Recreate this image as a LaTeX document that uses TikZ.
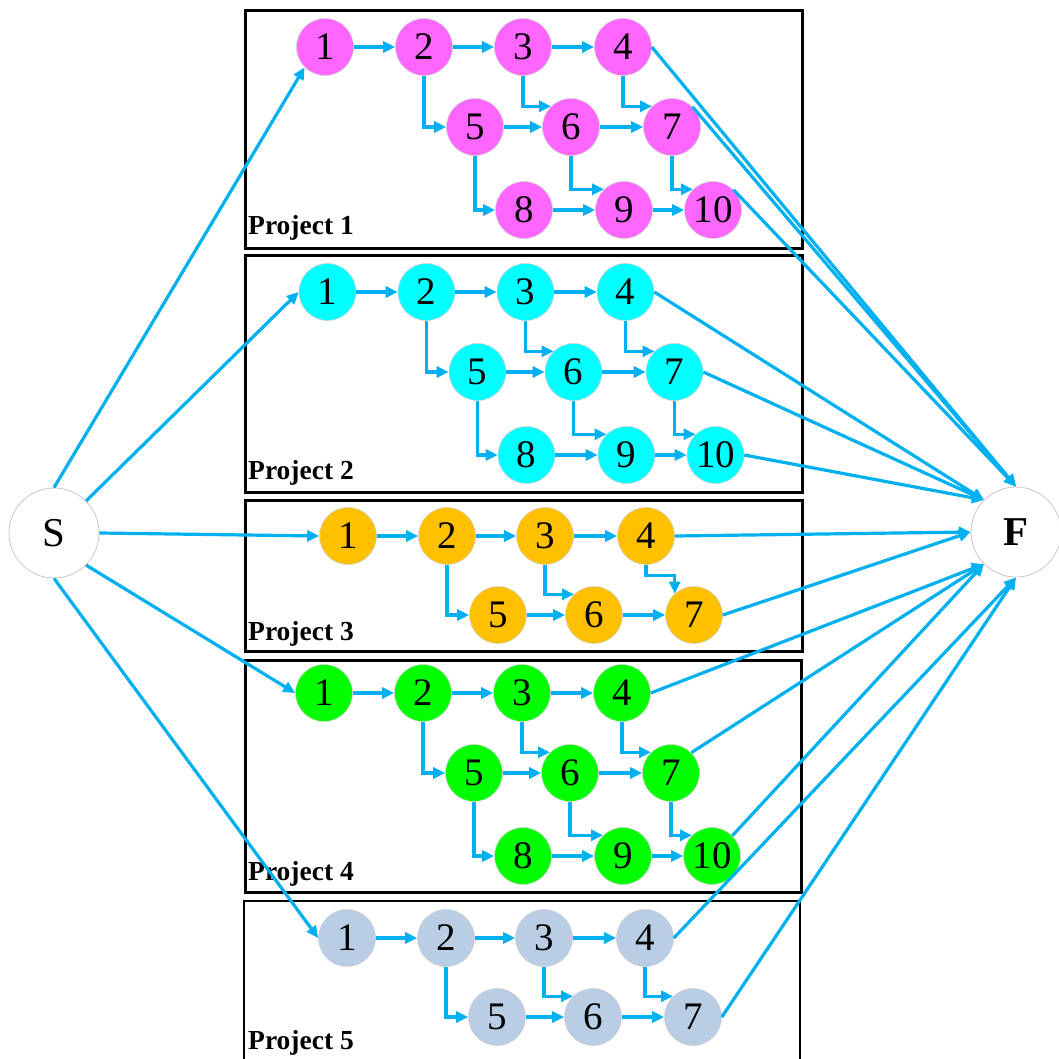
\documentclass[tikz,border=0pt]{standalone}
\usepackage{fontspec}
\setmainfont{Liberation Serif}
\usetikzlibrary{arrows.meta}
\definecolor{arr}{HTML}{00B0F0}
\definecolor{cpink}{HTML}{FF66FF}
\definecolor{ccyan}{HTML}{00FFFF}
\definecolor{corange}{HTML}{FFC000}
\definecolor{cgreen}{HTML}{00FF00}
\definecolor{cgray}{HTML}{B9CDE5}
\tikzset{
  pnode/.style={circle, minimum size=57pt, inner sep=0pt, draw=black!18, line width=0.6pt,
    font=\fontsize{39}{39}\selectfont},
  endnode/.style={circle, minimum size=90pt, inner sep=0pt, draw=black!22, line width=0.8pt,
    fill=white, font=\fontsize{41}{41}\selectfont},
  conn/.style={draw=arr, line width=3.2pt, -{Triangle[length=12pt,width=11pt]}},
  projbox/.style={draw=black, line width=2.6pt},
  plabel/.style={anchor=base west, inner sep=0pt, font=\fontsize{27.5}{27.5}\selectfont\bfseries},
}
% ten-node project: #1 prefix, #2 colour, #3 dx, #4 dy
\newcommand\tenproj[4]{%
  \begin{scope}[shift={(#3,#4)}]
    \node[pnode,fill=#2] (#1-1) at (325,47) {1};
    \node[pnode,fill=#2] (#1-2) at (424,47) {2};
    \node[pnode,fill=#2] (#1-3) at (523,47) {3};
    \node[pnode,fill=#2] (#1-4) at (623,47) {4};
    \node[pnode,fill=#2] (#1-5) at (475,127) {5};
    \node[pnode,fill=#2] (#1-6) at (571,127) {6};
    \node[pnode,fill=#2] (#1-7) at (672,127) {7};
    \node[pnode,fill=#2] (#1-8) at (524,210) {8};
    \node[pnode,fill=#2] (#1-9) at (624,210) {9};
    \node[pnode,fill=#2] (#1-10) at (713,210) {10};
  \end{scope}
  \draw[conn] (#1-1.east) -- (#1-2.west);
  \draw[conn] (#1-2.east) -- (#1-3.west);
  \draw[conn] (#1-3.east) -- (#1-4.west);
  \draw[conn] (#1-2.south) |- (#1-5.west);
  \draw[conn] (#1-3.south) |- (#1-6.134);
  \draw[conn] (#1-4.south) |- (#1-7.134);
  \draw[conn] (#1-5.east) -- (#1-6.west);
  \draw[conn] (#1-6.east) -- (#1-7.west);
  \draw[conn] (#1-5.south) |- (#1-8.west);
  \draw[conn] (#1-6.south) |- (#1-9.134);
  \draw[conn] (#1-7.south) |- (#1-10.134);
  \draw[conn] (#1-8.east) -- (#1-9.west);
  \draw[conn] (#1-9.east) -- (#1-10.west);
}
% seven-node project (without the 4->7 edge)
\newcommand\sevenproj[4]{%
  \begin{scope}[shift={(#3,#4)}]
    \node[pnode,fill=#2] (#1-1) at (348,536) {1};
    \node[pnode,fill=#2] (#1-2) at (447,536) {2};
    \node[pnode,fill=#2] (#1-3) at (545,536) {3};
    \node[pnode,fill=#2] (#1-4) at (646,536) {4};
    \node[pnode,fill=#2] (#1-5) at (498,615) {5};
    \node[pnode,fill=#2] (#1-6) at (594,615) {6};
    \node[pnode,fill=#2] (#1-7) at (694,615) {7};
  \end{scope}
  \draw[conn] (#1-1.east) -- (#1-2.west);
  \draw[conn] (#1-2.east) -- (#1-3.west);
  \draw[conn] (#1-3.east) -- (#1-4.west);
  \draw[conn] (#1-2.south) |- (#1-5.west);
  \draw[conn] (#1-3.south) |- (#1-6.134);
  \draw[conn] (#1-5.east) -- (#1-6.west);
  \draw[conn] (#1-6.east) -- (#1-7.west);
}
\begin{document}
\begin{tikzpicture}[x=1pt,y=-1pt]
\useasboundingbox (0,0) rectangle (1059,1059);
% project boxes
\node[projbox, anchor=north west, minimum width=557pt, minimum height=238pt, inner sep=0pt] (box1) at (244,9) {};
\node[projbox, anchor=north west, minimum width=557pt, minimum height=237pt, inner sep=0pt] (box2) at (244,254) {};
\node[projbox, anchor=north west, minimum width=557pt, minimum height=151pt, inner sep=0pt] (box3) at (244,499) {};
\node[projbox, anchor=north west, minimum width=556pt, minimum height=232pt, inner sep=0pt] (box4) at (244,659) {};
\draw[projbox] (244,1059) |- (800,901) -- (800,1059);
% labels
\node[plabel] (l1) at (248,235) {Project 1};
\node[plabel] (l2) at (248,479) {Project 2};
\node[plabel] (l3) at (248,640) {Project 3};
\node[plabel] (l4) at (248,880) {Project 4};
\node[plabel] (l5) at (248,1049) {Project 5};
% start / finish
\node[endnode] (S) at (54,533) {S};
\node[endnode] (F) at (1016,532) {\textbf{F}};
% projects
\tenproj{a}{cpink}{0}{0}
\tenproj{b}{ccyan}{2.5}{245}
\sevenproj{c}{corange}{0}{0}
\draw[conn] (c-4.south) -- ++(0,11) -| (c-7.132);
\tenproj{d}{cgreen}{-1}{646}
\sevenproj{e}{cgray}{-1}{402}
\draw[conn] (e-4.south) |- (e-7.134);
% from S
\draw[conn] (S.north) -- (a-1.225);
\draw[conn] (S.45) -- (b-1.west);
\draw[conn] (S.east) -- (c-1.west);
\draw[conn] (S.-45) -- (d-1.west);
\draw[conn] (S.south) -- (e-1.west);
% to F
\draw[conn] (a-4.east) -- (F.north);
\draw[conn] (a-7.45) -- (F.north);
\draw[conn] (a-10.45) -- (F.north);
\draw[conn] (b-4.east) -- (F.135);
\draw[conn] (b-7.east) -- (F.135);
\draw[conn] (b-10.east) -- (F.135);
\draw[conn] (c-4.east) -- (F.west);
\draw[conn] (c-7.east) -- (F.west);
\draw[conn] (d-4.east) -- (F.225);
\draw[conn] (d-7.45) -- (F.225);
\draw[conn] (d-10.45) -- (F.225);
\draw[conn] (e-4.east) -- (F.south);
\draw[conn] (e-7.east) -- (F.south);
\end{tikzpicture}
\end{document}
